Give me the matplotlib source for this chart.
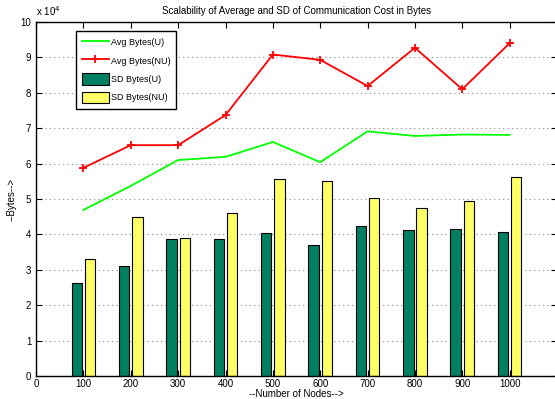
import numpy as np
import matplotlib
matplotlib.use("Agg")
import matplotlib.pyplot as plt
from matplotlib.ticker import FuncFormatter

# ----------------------------
# Data (bytes)
# ----------------------------
nodes = [100, 200, 300, 400, 500, 600, 700, 800, 900, 1000]
avg_u = [46900, 53700, 61000, 61900, 66100, 60400, 69100, 67800, 68200, 68100]
avg_nu = [58800, 65200, 65200, 73700, 90800, 89300, 81900, 92700, 81000, 94000]
sd_u = [26200, 31000, 38700, 38600, 40400, 37100, 42500, 41200, 41500, 40800]
sd_nu = [33000, 44800, 38900, 45900, 55700, 55200, 50400, 47500, 49400, 56300]

plt.rcParams['font.family'] = ['Liberation Sans', 'DejaVu Sans']

fig = plt.figure(figsize=(5.55, 3.99), dpi=100)
ax = fig.add_axes([0.065, 0.0576, 0.9386, 0.8874])

x = np.array(nodes)
bw = 22
ax.bar(x - 14, sd_u, width=bw, color='#007f62', edgecolor='black', linewidth=0.8,
       label='SD Bytes(U)', zorder=2)
ax.bar(x + 14, sd_nu, width=bw, color='#ffff66', edgecolor='black', linewidth=0.8,
       label='SD Bytes(NU)', zorder=2)
ax.plot(x, avg_u, color='#00ff00', linewidth=1.3, label='Avg Bytes(U)', zorder=3)
ax.plot(x, avg_nu, color='#ff0000', linewidth=1.3, marker='+', markersize=6,
        markeredgewidth=1.3, label='Avg Bytes(NU)', zorder=3)

ax.set_xlim(0, 1100)
ax.set_ylim(0, 100000)
ax.set_xticks(np.arange(0, 1101, 100))
ax.set_xticklabels([str(v) for v in range(0, 1001, 100)] + [''])
ax.set_yticks(np.arange(0, 100001, 10000))
ax.yaxis.set_major_formatter(FuncFormatter(lambda v, p: f'{v / 1e4:g}'))
ax.tick_params(direction='in', top=True, right=True, labelsize=7, length=4, width=0.8)
ax.tick_params(axis='x', pad=2)
ax.yaxis.grid(True, linestyle=(0, (1, 3)), color='#888888', linewidth=0.8, zorder=0)
for s in ax.spines.values():
    s.set_linewidth(1.0)

ax.text(0.0, 1.01, 'x 10$^4$', transform=ax.transAxes, fontsize=7, ha='left', va='bottom')
ax.set_title('Scalability of Average and SD of Communication Cost in Bytes', fontsize=7, pad=6)
ax.set_xlabel('--Number of Nodes-->', fontsize=7, labelpad=0)
ax.set_ylabel('--Bytes-->', fontsize=7)
ax.yaxis.set_label_coords(-0.038, 0.5)

h, l = ax.get_legend_handles_labels()
leg = ax.legend(h, l, loc='upper left', bbox_to_anchor=(0.077, 0.974), borderaxespad=0,
                fontsize=6.5, frameon=True, fancybox=False,
                edgecolor='black', framealpha=1, borderpad=0.6, labelspacing=0.75,
                handlelength=3.0, handleheight=1.6, handletextpad=0.3)
leg.get_frame().set_linewidth(1.0)

fig.savefig('out.png', dpi=100)
